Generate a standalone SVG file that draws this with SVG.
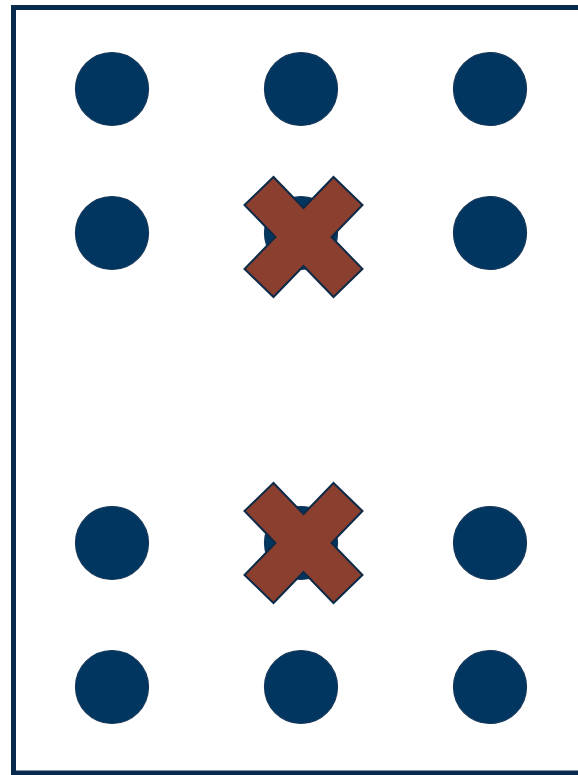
<svg xmlns="http://www.w3.org/2000/svg" width="578" height="775" viewBox="0 0 578 775">
  <defs>
    <style>
      .frame { fill: none; stroke: #082a4c; stroke-width: 5; }
      .dot { fill: #003660; stroke: #14365a; stroke-width: 1.2; }
      .cross { fill: #8b3f2e; stroke: #0d2a48; stroke-width: 2; stroke-linejoin: miter; }
    </style>
    <polygon id="x" points="-59,-32 -30,-60 0,-29 30,-60 59,-32 28,0 59,32 30,60 0,29 -30,60 -59,32 -28,0" />
  </defs>
  <rect width="578" height="775" fill="#ffffff"/>
  <rect class="frame" x="13.5" y="7.5" width="600" height="765.5"/>
  <g id="dot-r1c1"><circle class="dot" cx="112" cy="89" r="36.5"/></g>
  <g id="dot-r1c2"><circle class="dot" cx="301" cy="89" r="36.5"/></g>
  <g id="dot-r1c3"><circle class="dot" cx="490" cy="89" r="36.5"/></g>
  <g id="dot-r2c1"><circle class="dot" cx="112" cy="233" r="36.5"/></g>
  <g id="dot-r2c2"><circle class="dot" cx="301" cy="233" r="36.5"/></g>
  <g id="dot-r2c3"><circle class="dot" cx="490" cy="233" r="36.5"/></g>
  <g id="dot-r3c1"><circle class="dot" cx="112" cy="543" r="36.5"/></g>
  <g id="dot-r3c2"><circle class="dot" cx="301" cy="543" r="36.5"/></g>
  <g id="dot-r3c3"><circle class="dot" cx="490" cy="543" r="36.5"/></g>
  <g id="dot-r4c1"><circle class="dot" cx="112" cy="687" r="36.5"/></g>
  <g id="dot-r4c2"><circle class="dot" cx="301" cy="687" r="36.5"/></g>
  <g id="dot-r4c3"><circle class="dot" cx="490" cy="687" r="36.5"/></g>
  <g id="cross-1"><use href="#x" class="cross" transform="translate(303.5,237)"/></g>
  <g id="cross-2"><use href="#x" class="cross" transform="translate(303.5,543)"/></g>
  <g id="connectors"></g>
</svg>
